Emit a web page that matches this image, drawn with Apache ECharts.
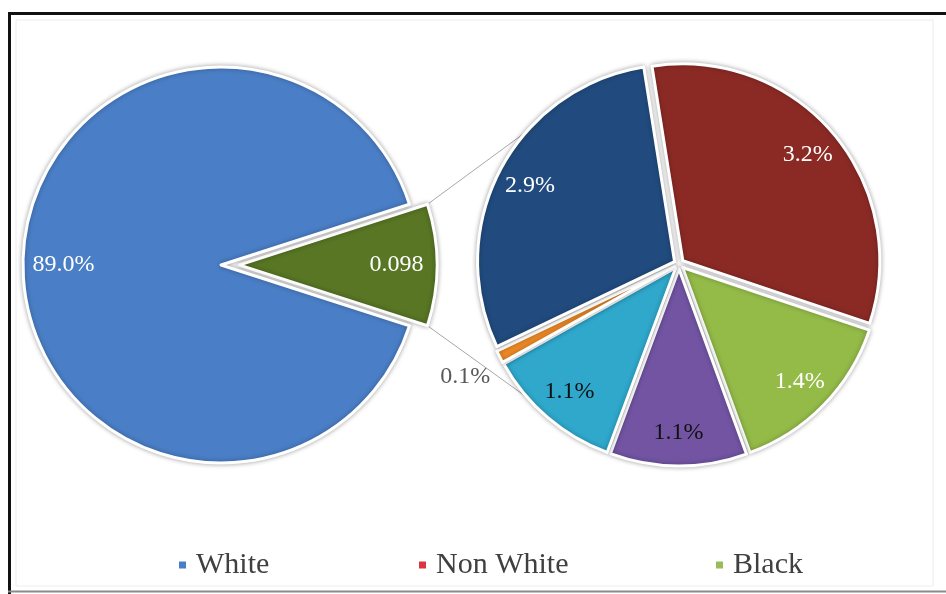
<!DOCTYPE html>
<html>
<head>
<meta charset="utf-8">
<script src="https://cdn.jsdelivr.net/npm/echarts@6/dist/echarts.min.js"></script>
<style>
  html, body { margin: 0; padding: 0; background: #ffffff; }
  #chart { width: 946px; height: 594px; }
</style>
</head>
<body>
<div id="chart"></div>
<script>
// Overall split (percent)
const mainNames = ['Non White', 'White'];
const mainValues = [9.8, 89.0];
const mainColors = ['#587624', '#4a7ec6'];

// Breakdown of the Non White share (percent of the whole)
const subNames = ['Group 1', 'Black', 'Group 2', 'Group 3', 'Group 4', 'Group 5'];
const subValues = [3.2, 1.4, 1.1, 1.1, 0.1, 2.9];
const subColors = ['#8b2a25', '#94bb48', '#7254a3', '#2fa8cc', '#ef8a25', '#214b7e'];
const subLabelColors = ['#ffffff', '#ffffff', '#111111', '#111111', '#595959', '#ffffff'];

// Legend entries
const legendNames = ['White', 'Non White', 'Black'];
const legendColors = ['#4a7ec6', '#d9343f', '#9bbb59'];

// Geometry of the two pies
const L = { cx: 221, cy: 265, r: 198, explode: 18 };
const R = { cx: 679, cy: 264, r: 197, explode: 5, startAngle: 99 };
const LEGEND_LEFT = [177, 417, 714];
const SERIF = '"Liberation Serif", "Times New Roman", serif';

const total = mainValues.reduce((a, b) => a + b, 0);
const halfDeg = mainValues[0] / total * 180;          // half sweep of the broken-out slice
const smallIdx = subValues.indexOf(Math.min(...subValues));

// connector lines from the broken-out slice to tangents of the second pie
const halfRad = halfDeg * Math.PI / 180;
const apexX = L.cx + L.explode;
const corners = [
  [apexX + L.r * Math.cos(halfRad), L.cy - L.r * Math.sin(halfRad)],
  [apexX + L.r * Math.cos(halfRad), L.cy + L.r * Math.sin(halfRad)]
];
function tangentPoint(p, upper) {
  const dx = p[0] - R.cx, dy = p[1] - R.cy;
  const d = Math.hypot(dx, dy);
  const base = Math.atan2(dy, dx);
  const a = Math.acos(R.r / d);
  const t = base + (upper ? a : -a);
  return [R.cx + R.r * Math.cos(t), R.cy + R.r * Math.sin(t)];
}
const connectors = corners.map((c, i) => {
  const t = tangentPoint(c, i === 0);
  return {
    type: 'line', silent: true, z: -1,
    shape: { x1: c[0], y1: c[1], x2: t[0], y2: t[1] },
    style: { stroke: '#a8a8a8', lineWidth: 1 }
  };
});

const frame = [
  { type: 'rect', silent: true, z: -5, shape: { x: 16, y: 20, width: 917, height: 566 },
    style: { fill: 'none', stroke: '#ececec', lineWidth: 1 } },
  { type: 'line', silent: true, shape: { x1: 8, y1: 13.5, x2: 946, y2: 13.5 },
    style: { stroke: '#111111', lineWidth: 3 } },
  { type: 'line', silent: true, shape: { x1: 9.5, y1: 12, x2: 9.5, y2: 594 },
    style: { stroke: '#111111', lineWidth: 3 } },
  { type: 'line', silent: true, shape: { x1: 8, y1: 591.5, x2: 946, y2: 591.5 },
    style: { stroke: '#8a8a8a', lineWidth: 2 } }
];

const sliceStyle = {
  borderColor: '#ffffff', borderWidth: 3,
  shadowBlur: 5, shadowColor: 'rgba(0,0,0,0.3)'
};

const chart = echarts.init(document.getElementById('chart'), null, { renderer: 'canvas' });

chart.setOption({
  backgroundColor: '#ffffff',
  animation: false,
  graphic: { elements: frame.concat(connectors) },
  legend: legendNames.map((n, i) => ({
    data: [{ name: n, itemStyle: { color: legendColors[i] } }],
    left: LEGEND_LEFT[i], top: 550, padding: 0,
    icon: 'rect', itemWidth: 9, itemHeight: 9, selectedMode: false,
    textStyle: { fontFamily: SERIF, fontSize: 30, color: '#404040', padding: [0, 0, 0, 4] }
  })),
  series: [
    {
      name: 'Population',
      type: 'pie',
      center: [L.cx, L.cy],
      radius: [0, L.r],
      startAngle: halfDeg,
      clockwise: true,
      selectedMode: 'single',
      selectedOffset: L.explode,
      emphasis: { disabled: true },
      label: { show: false },
      labelLine: { show: false },
      itemStyle: sliceStyle,
      select: { itemStyle: sliceStyle },
      data: mainNames.map((n, i) => ({
        name: n, value: mainValues[i], selected: i === 0,
        itemStyle: { color: mainColors[i] }
      }))
    },
    {
      name: 'Population labels',
      type: 'pie',
      silent: true,
      center: [L.cx, L.cy],
      radius: [L.r * 0.56, L.r],
      startAngle: halfDeg,
      selectedMode: 'single',
      selectedOffset: L.explode,
      emphasis: { disabled: true },
      avoidLabelOverlap: false,
      itemStyle: { color: 'rgba(0,0,0,0)', borderWidth: 0 },
      select: { itemStyle: { color: 'rgba(0,0,0,0)', borderWidth: 0 } },
      label: {
        show: true, position: 'inside', color: '#ffffff',
        fontFamily: SERIF, fontSize: 24,
        formatter: p => p.dataIndex === 0 ? (p.value / 100).toFixed(3) : p.value.toFixed(1) + '%'
      },
      labelLine: { show: false },
      data: mainNames.map((n, i) => ({ name: n, value: mainValues[i], selected: i === 0 }))
    },
    {
      name: 'Non White breakdown',
      type: 'pie',
      center: [R.cx, R.cy],
      radius: [0, R.r],
      startAngle: R.startAngle,
      selectedMode: 'multiple',
      selectedOffset: R.explode,
      emphasis: { disabled: true },
      label: { show: false },
      labelLine: { show: false },
      itemStyle: sliceStyle,
      select: { itemStyle: sliceStyle },
      data: subNames.map((n, i) => ({
        name: n, value: subValues[i], selected: true,
        itemStyle: { color: subColors[i] }
      }))
    },
    {
      name: 'Non White breakdown labels',
      type: 'pie',
      silent: true,
      center: [R.cx, R.cy],
      radius: [R.r * 0.68, R.r],
      startAngle: R.startAngle,
      emphasis: { disabled: true },
      avoidLabelOverlap: false,
      itemStyle: { color: 'rgba(0,0,0,0)', borderWidth: 0 },
      label: {
        show: true, position: 'inside',
        fontFamily: SERIF, fontSize: 24,
        formatter: p => p.value.toFixed(1) + '%'
      },
      labelLine: { show: false, length: 10, length2: 0 },
      labelLayout: p => (p.dataIndex === smallIdx ? { dy: 18 } : {}),
      data: subNames.map((n, i) => ({
        name: n, value: subValues[i],
        label: i === smallIdx
          ? { position: 'outside', color: subLabelColors[i] }
          : { color: subLabelColors[i] }
      }))
    }
  ]
});
</script>
</body>
</html>
